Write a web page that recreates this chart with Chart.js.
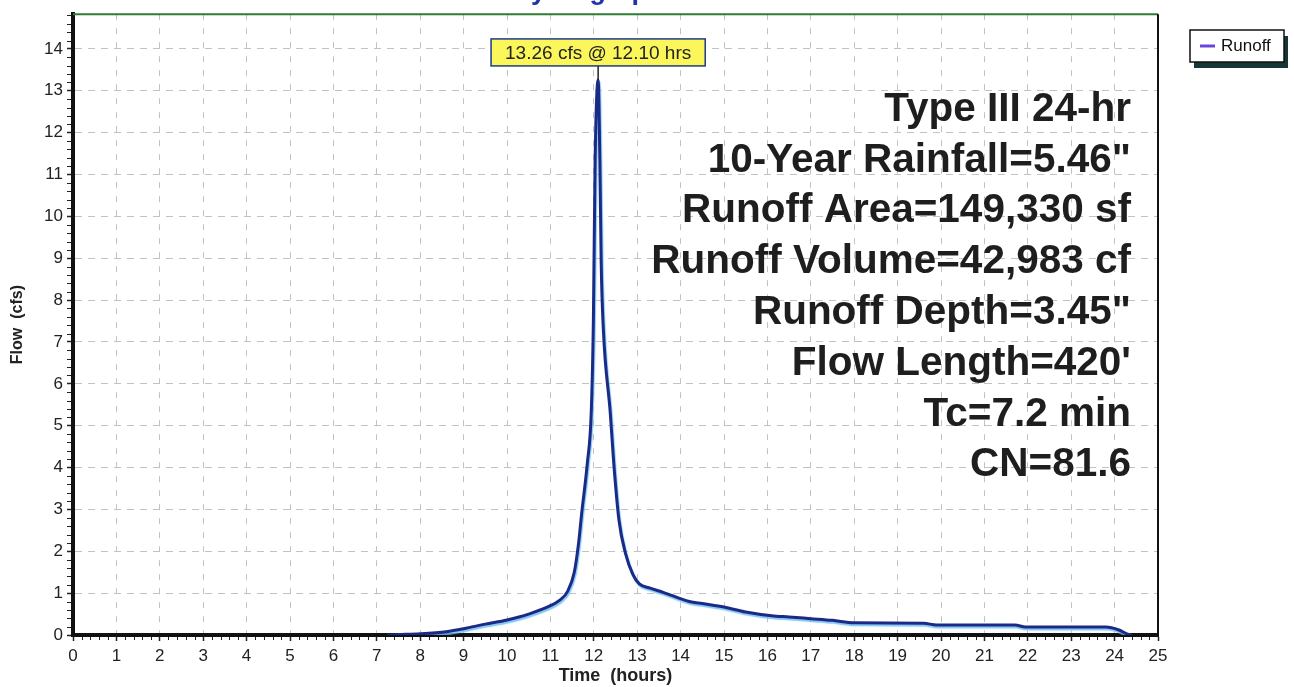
<!DOCTYPE html>
<html>
<head>
<meta charset="utf-8">
<script src="https://cdn.jsdelivr.net/npm/chart.js@4.4.1/dist/chart.umd.min.js"></script>
<style>
  html, body { margin: 0; padding: 0; background: #fff; overflow: hidden; }
  #wrap { position: relative; width: 1294px; height: 687px; }
</style>
</head>
<body>
<div id="wrap"><canvas id="chart" width="1294" height="687"></canvas></div>
<script>
// Runoff hydrograph: time (hours) vs. flow (cfs)
const hours = [7.24, 7.5, 8.0, 8.6, 9.0, 9.5, 10.0, 10.5, 11.0, 11.2, 11.4, 11.55, 11.65, 11.72, 11.85, 11.94,
  11.99, 12.03, 12.10, 12.14, 12.17, 12.22, 12.38, 12.46, 12.58, 12.73, 12.9, 13.05, 13.3, 13.6, 14.2, 14.5,
  15.0, 15.5, 16.1, 16.5, 17.0, 17.5, 18.0, 19.6, 19.9, 21.7, 21.95, 23.8, 24.1, 24.3, 24.4];
const flow = [0, 0.01, 0.03, 0.08, 0.15, 0.26, 0.36, 0.5, 0.7, 0.82, 1.05, 1.5, 2.2, 2.9, 4.1, 5.3,
  7.5, 11.3, 13.26, 11.3, 8.9, 7.3, 5.3, 4.1, 2.74, 1.95, 1.45, 1.22, 1.12, 1.02, 0.8, 0.75,
  0.67, 0.55, 0.46, 0.43, 0.39, 0.35, 0.29, 0.28, 0.24, 0.24, 0.19, 0.19, 0.12, 0.02, 0];

const xTicks = [0, 1, 2, 3, 4, 5, 6, 7, 8, 9, 10, 11, 12, 13, 14, 15, 16, 17, 18, 19, 20, 21, 22, 23, 24, 25];
const yTicks = [0, 1, 2, 3, 4, 5, 6, 7, 8, 9, 10, 11, 12, 13, 14];

const seriesName = 'Runoff';
const chartTitle = 'Hydrograph';
const stormNotes = [
  'Type III 24-hr',
  '10-Year Rainfall=5.46"',
  'Runoff Area=149,330 sf',
  'Runoff Volume=42,983 cf',
  'Runoff Depth=3.45"',
  "Flow Length=420'",
  'Tc=7.2 min',
  'CN=81.6'
];

const FONT = "'Liberation Sans', Arial, Helvetica, sans-serif";
Chart.defaults.font.family = FONT;
Chart.defaults.color = '#222';

const points = hours.map((h, i) => ({ x: h, y: flow[i] }));
const peakIdx = flow.indexOf(Math.max(...flow));

// title partly above the page edge, minor ticks, frame, notes, peak tag, legend
const decorPlugin = {
  id: 'decor',
  beforeDatasetsDraw(chart) {
    const { ctx } = chart;
    ctx.save();
    ctx.font = 'bold 40.5px ' + FONT;
    ctx.fillStyle = '#1e1e1e';
    ctx.textAlign = 'right';
    ctx.textBaseline = 'alphabetic';
    const base = [121, 172, 222, 273, 324, 375, 426, 476];
    stormNotes.forEach((t, i) => ctx.fillText(t, 1131, base[i]));
    ctx.restore();
  },
  beforeDatasetDraw(chart) {
    const { ctx } = chart;
    ctx.save();
    ctx.shadowColor = 'rgba(110, 190, 240, 0.85)';
    ctx.shadowOffsetX = 1;
    ctx.shadowOffsetY = 2;
    ctx.shadowBlur = 1;
  },
  afterDatasetDraw(chart) {
    chart.ctx.restore();
  },
  afterDatasetsDraw(chart) {
    const { ctx, scales: { x, y } } = chart;
    const px = x.getPixelForValue(hours[peakIdx]);
    const py = y.getPixelForValue(flow[peakIdx]);
    const label = flow[peakIdx].toFixed(2) + ' cfs @ ' + hours[peakIdx].toFixed(2) + ' hrs';
    ctx.save();
    ctx.font = '19px ' + FONT;
    const w = ctx.measureText(label).width + 28;
    const h = 27;
    const bx = px - w / 2;
    const by = py - 14 - h;
    ctx.strokeStyle = '#222';
    ctx.lineWidth = 1.5;
    ctx.beginPath();
    ctx.moveTo(px, by + h);
    ctx.lineTo(px, py);
    ctx.stroke();
    ctx.fillStyle = '#fbf75a';
    ctx.fillRect(bx, by, w, h);
    ctx.strokeStyle = '#1e3a8a';
    ctx.strokeRect(bx, by, w, h);
    ctx.fillStyle = '#222';
    ctx.textAlign = 'center';
    ctx.textBaseline = 'middle';
    ctx.fillText(label, px, by + h / 2 + 1);
    ctx.restore();
  },
  afterDraw(chart) {
    const { ctx, chartArea: a, scales: { x, y } } = chart;
    ctx.save();
    // top and right frame
    ctx.strokeStyle = '#2f7d32';
    ctx.lineWidth = 2;
    ctx.beginPath();
    ctx.moveTo(a.left, a.top);
    ctx.lineTo(a.right, a.top);
    ctx.stroke();
    ctx.strokeStyle = '#111';
    ctx.beginPath();
    ctx.moveTo(a.right, a.top);
    ctx.lineTo(a.right, a.bottom);
    ctx.stroke();
    // minor ticks every 0.2
    ctx.strokeStyle = '#222';
    ctx.lineWidth = 1;
    ctx.beginPath();
    for (let v = 0.2; v < y.max; v += 0.2) {
      if (Math.abs(v - Math.round(v)) < 1e-6) continue;
      const py = Math.round(y.getPixelForValue(v)) + 0.5;
      ctx.moveTo(a.left - 6, py);
      ctx.lineTo(a.left - 2, py);
    }
    for (let v = 0.2; v < x.max; v += 0.2) {
      if (Math.abs(v - Math.round(v)) < 1e-6) continue;
      const px = Math.round(x.getPixelForValue(v)) + 0.5;
      ctx.moveTo(px, a.bottom + 2);
      ctx.lineTo(px, a.bottom + 5);
    }
    ctx.stroke();

    // chart title, mostly above the visible page
    ctx.font = 'bold 27px ' + FONT;
    ctx.fillStyle = '#1f35a8';
    ctx.textAlign = 'center';
    ctx.textBaseline = 'alphabetic';
    ctx.fillText(chartTitle, 588, -1.5);

    // legend box with drop shadow
    const lx = 1190, ly = 30, lw = 94, lh = 32;
    ctx.fillStyle = '#173636';
    ctx.fillRect(lx + 4, ly + 6, lw, lh);
    ctx.fillStyle = '#fff';
    ctx.fillRect(lx, ly, lw, lh);
    ctx.strokeStyle = '#111';
    ctx.lineWidth = 1.5;
    ctx.strokeRect(lx, ly, lw, lh);
    ctx.strokeStyle = '#6a46d6';
    ctx.lineWidth = 3;
    ctx.beginPath();
    ctx.moveTo(lx + 10, ly + 16);
    ctx.lineTo(lx + 25, ly + 16);
    ctx.stroke();
    ctx.fillStyle = '#111';
    ctx.font = '17px ' + FONT;
    ctx.textAlign = 'left';
    ctx.textBaseline = 'middle';
    ctx.fillText(chart.data.datasets[0].label, lx + 31, ly + 16);
    ctx.restore();
  }
};

new Chart(document.getElementById('chart'), {
  type: 'scatter',
  data: {
    datasets: [{
      label: seriesName,
      data: points,
      showLine: true,
      borderColor: '#1b2a86',
      borderWidth: 3,
      pointRadius: 0,
      cubicInterpolationMode: 'monotone'
    }]
  },
  options: {
    responsive: false,
    animation: false,
    devicePixelRatio: 1,
    layout: { padding: { left: 0, right: 136, top: 12, bottom: 0 } },
    plugins: { legend: { display: false }, tooltip: { enabled: false } },
    scales: {
      x: {
        type: 'linear',
        min: 0,
        max: 25,
        afterBuildTicks: s => { s.ticks = xTicks.map(v => ({ value: v })); },
        afterFit: s => { s.height = 52; },
        ticks: { color: '#222', font: { size: 17 }, padding: 5, maxRotation: 0, autoSkip: false },
        grid: { color: '#c2c2c2', lineWidth: 1, tickLength: 6, tickColor: '#222', tickWidth: 1.5 },
        border: { color: '#111', width: 4, dash: [6, 8] },
        title: { display: true, text: 'Time  (hours)', color: '#222', font: { size: 18, weight: 'bold' }, padding: { top: 0, bottom: 0 } }
      },
      y: {
        type: 'linear',
        min: 0,
        max: 14.83,
        afterBuildTicks: s => { s.ticks = yTicks.map(v => ({ value: v })); },
        afterFit: s => { s.width = 73; },
        ticks: { color: '#222', font: { size: 17 }, padding: 4 },
        grid: { color: '#c2c2c2', lineWidth: 1, tickLength: 6, tickColor: '#222', tickWidth: 1.5 },
        border: { color: '#111', width: 4, dash: [7, 6] },
        title: { display: true, text: 'Flow  (cfs)', color: '#222', font: { size: 16, weight: 'bold' }, padding: { top: 8, bottom: 0 } }
      }
    }
  },
  plugins: [decorPlugin]
});
</script>
</body>
</html>
